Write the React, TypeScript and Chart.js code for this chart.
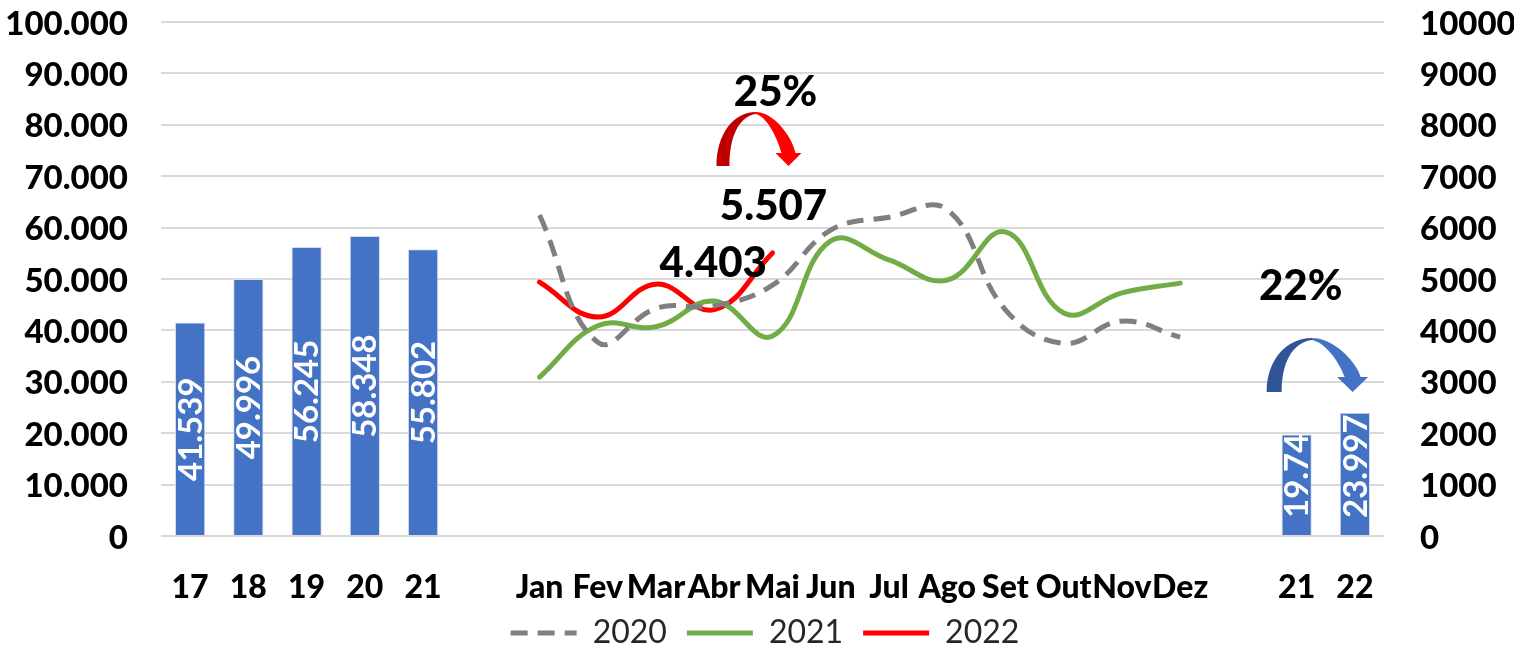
import React, { useEffect, useRef } from "react";
import { Chart, registerables } from "chart.js";

Chart.register(...registerables);

const yearLabels = ["17", "18", "19", "20", "21"];
const yearValues = [41539, 49996, 56245, 58348, 55802];
const monthLabels = ["Jan", "Fev", "Mar", "Abr", "Mai", "Jun", "Jul", "Ago", "Set", "Out", "Nov", "Dez"];
const ytdLabels = ["21", "22"];
const ytdValues = [19740, 23997];
const ytdText = ["19.74", "23.997"];
const yearText = ["41.539", "49.996", "56.245", "58.348", "55.802"];
const series2020 = [6245, 3770, 4430, 4480, 4880, 5950, 6200, 6350, 4400, 3750, 4180, 3870];
const series2021 = [3090, 4090, 4070, 4570, 3890, 5740, 5370, 4980, 5915, 4340, 4730, 4920];
const series2022 = [4940, 4260, 4900, 4403, 5507];

const FONT = "Lato, Carlito, Calibri, sans-serif";

const labels = [...yearLabels, " ", ...monthLabels, "  ", ...ytdLabels];
const blank = (n: number) => Array(n).fill(null);
const barData = [...yearValues, ...blank(14), ...ytdValues];
const barText = [...yearText, ...blank(14), ...ytdText];
const pad = (arr: number[]) => [...blank(6), ...arr, ...blank(12 - arr.length + 3)];

function curvedArrow(
  ctx: CanvasRenderingContext2D,
  x: number, // left edge of the foot
  y: number, // baseline of the foot and tip
  s: { h: number; foot: number; tip: number; headW: number; headH: number; stem: number; apex: number },
  dark: string,
  light: string
) {
  const { h, foot, tip, headW, headH, stem, apex } = s;
  const ax = x + apex;
  const tx = x + tip;
  const g = ctx.createLinearGradient(x, 0, tx + headW / 2, 0);
  const stop = apex / (tip + headW / 2);
  g.addColorStop(0, dark);
  g.addColorStop(stop, dark);
  g.addColorStop(stop, light);
  g.addColorStop(1, light);
  ctx.save();
  ctx.fillStyle = g;
  ctx.beginPath();
  ctx.moveTo(x, y);
  ctx.bezierCurveTo(x, y - h * 0.6, x + apex * 0.45, y - h, ax, y - h);
  ctx.bezierCurveTo(ax + (tip - apex) * 0.55, y - h, tx + stem * 0.25, y - h * 0.55, tx + stem / 2, y - headH);
  ctx.lineTo(tx + headW / 2, y - headH);
  ctx.lineTo(tx, y);
  ctx.lineTo(tx - headW / 2, y - headH);
  ctx.lineTo(tx - stem / 2, y - headH);
  ctx.bezierCurveTo(tx - stem * 0.9, y - h * 0.6, ax + (tip - apex) * 0.3, y - h * 0.93, ax, y - h + 2);
  ctx.bezierCurveTo(x + foot + (apex - foot) * 0.3, y - h * 0.9, x + foot, y - h * 0.5, x + foot, y);
  ctx.closePath();
  ctx.fill();
  ctx.restore();
}

const overlay = {
  id: "overlay",
  afterLayout(chart: any) {
    // The legend's wide item spacing also pads it vertically: seat it and the
    // category axis in the space the reference gives them.
    const legend = chart.legend;
    const h = legend.bottom - legend.top;
    legend.top = 597;
    legend.bottom = 597 + h;
    legend.left += 8;
    legend.right += 8;
    chart.scales.x.bottom = chart.scales.x.top + 80;
  },
  afterDatasetsDraw(chart: any) {
    const { ctx, scales } = chart;
    const xs = scales.x;
    const yL = scales.y;
    const yR = scales.yR;
    const base = yL.getPixelForValue(0);

    // Rotated value labels inside the bars
    const barMeta = chart.getDatasetMeta(0);
    ctx.save();
    ctx.font = `700 33px ${FONT}`;
    ctx.fillStyle = "#ffffff";
    ctx.textBaseline = "middle";
    ctx.textAlign = "right";
    barData.forEach((v: number | null, i: number) => {
      if (v == null) return;
      const el = barMeta.data[i];
      const text = barText[i];
      const len = ctx.measureText(text).width;
      const centre = (el.y + base) / 2;
      const bottom = Math.min(centre + len / 2, base - 18);
      ctx.save();
      ctx.translate(el.x, bottom - len);
      ctx.rotate(-Math.PI / 2);
      ctx.fillText(text, 0, 1);
      ctx.restore();
    });
    ctx.restore();

    // Callouts, anchored to their categories and values
    const abr = xs.getPixelForValue(labels.indexOf("Abr"));
    const mai = xs.getPixelForValue(labels.indexOf("Mai"));
    const r21 = xs.getPixelForValue(labels.length - 2);
    ctx.save();
    ctx.fillStyle = "#000000";
    ctx.font = `900 42px ${FONT}`;
    ctx.textAlign = "center";
    ctx.textBaseline = "middle";
    ctx.fillText("4.403", abr - 1, yR.getPixelForValue(series2022[3]) - 46);
    ctx.fillText("5.507", mai + 1, yR.getPixelForValue(series2022[4]) - 46);
    ctx.fillText("25%", mai + 3, yL.getPixelForValue(86300));
    ctx.fillText("22%", r21 + 4, yL.getPixelForValue(48500));
    ctx.restore();

    curvedArrow(ctx, mai - 56, yL.getPixelForValue(72000),
      { h: 54, foot: 13, tip: 72, headW: 26, headH: 13, stem: 14, apex: 39 }, "#c00000", "#ff0000");
    curvedArrow(ctx, r21 - 30, yL.getPixelForValue(28000),
      { h: 54, foot: 15, tip: 86, headW: 31, headH: 15, stem: 16, apex: 45 }, "#2f5597", "#4472c4");
  },
};

const noPadding = (s: any) => {
  s.paddingTop = 0;
  s.paddingBottom = 0;
  s.paddingLeft = 0;
  s.paddingRight = 0;
};

export default function App() {
  const ref = useRef<HTMLCanvasElement | null>(null);
  useEffect(() => {
    if (!ref.current) return;
    const lineDs = (label: string, data: number[], color: string, dash: number[] = []) => ({
      type: "line" as const,
      label,
      data: pad(data),
      yAxisID: "yR",
      borderColor: color,
      backgroundColor: color,
      borderWidth: 5,
      borderDash: dash,
      borderCapStyle: dash.length ? ("butt" as const) : ("round" as const),
      pointRadius: 0,
      pointStyle: "line",
      tension: 0.42,
      spanGaps: false,
      order: 1,
    });
    const chart = new Chart(ref.current, {
      data: {
        labels,
        datasets: [
          {
            type: "bar",
            label: "Total",
            data: barData,
            yAxisID: "y",
            backgroundColor: "#4472c4",
            borderColor: "#d5deef",
            borderWidth: 1,
            barPercentage: 0.52,
            categoryPercentage: 1,
            order: 2,
          },
          lineDs("2020", series2020, "#7f7f7f", [17, 10]),
          lineDs("2021", series2021, "#70ad47"),
          lineDs("2022", series2022, "#ff0000"),
        ],
      },
      options: {
        responsive: false,
        animation: false,
        layout: { autoPadding: false, padding: { top: 22, left: 0, right: 0, bottom: 0 } },
        plugins: {
          tooltip: { enabled: false },
          title: { display: false },
          legend: {
            display: true,
            position: "bottom",
            labels: {
              filter: (item: any) => item.datasetIndex !== 0,
              generateLabels: (c: any) =>
                Chart.defaults.plugins.legend.labels.generateLabels(c).map((item: any) => ({
                  ...item,
                  lineDash: c.data.datasets[item.datasetIndex].borderDash ?? [],
                })),
              usePointStyle: true,
              pointStyle: "line",
              pointStyleWidth: 66,
              boxWidth: 66,
              boxHeight: 28,
              padding: 20,
              color: "#262626",
              font: { family: FONT, size: 32, weight: "400" },
            },
          },
        },
        scales: {
          x: {
            grid: { display: false },
            border: { display: false },
            ticks: {
              autoSkip: false,
              maxRotation: 0,
              minRotation: 0,
              padding: 24,
              color: "#000000",
              font: { family: FONT, size: 32, weight: "900" },
            },
            afterFit: (s: any) => {
              s.height = 51;
              noPadding(s);
            },
          },
          y: {
            position: "left",
            min: 0,
            max: 100000,
            grid: { color: "#d9d9d9", lineWidth: 2, drawTicks: false },
            border: { display: false },
            ticks: {
              stepSize: 10000,
              padding: 33,
              labelOffset: 2,
              color: "#000000",
              font: { family: FONT, size: 33, weight: "900" },
              callback: (v: any) => String(v).replace(/\B(?=(\d{3})+$)/g, "."),
            },
            afterFit: (s: any) => {
              s.width = 161;
              noPadding(s);
            },
          },
          yR: {
            position: "right",
            min: 0,
            max: 10000,
            grid: { display: false, drawTicks: false },
            border: { display: false },
            ticks: {
              stepSize: 1000,
              padding: 36,
              labelOffset: 2,
              color: "#000000",
              font: { family: FONT, size: 33, weight: "900" },
              callback: (v: any) => String(v),
            },
            afterFit: (s: any) => {
              s.width = 130;
              noPadding(s);
            },
          },
        },
      } as any,
      plugins: [overlay],
    } as any);
    return () => chart.destroy();
  }, []);
  return (
    <div style={{ position: "absolute", left: 0, top: 0, width: 1514, height: 649, background: "#fff" }}>
      <canvas ref={ref} width={1514} height={649} style={{ display: "block" }} />
    </div>
  );
}
